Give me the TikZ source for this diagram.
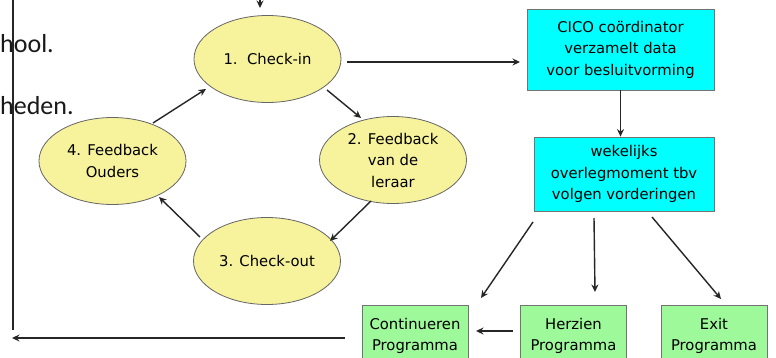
\documentclass[tikz,border=0pt]{standalone}
\usepackage{fontspec}
\setmainfont{DejaVu Sans}
\newfontfamily\bgfont{Carlito}
\usetikzlibrary{shapes.geometric,arrows.meta}
\definecolor{ellfill}{HTML}{F7F29C}
\definecolor{boxcyan}{HTML}{00FFFF}
\definecolor{boxgreen}{HTML}{9EF99A}
\begin{document}
\begin{tikzpicture}[x=1pt,y=-1pt,
  txt/.style={font=\fontsize{14.8}{21.5}\selectfont, align=center, text=black},
  ell/.style={txt, ellipse, draw=black!60, line width=0.8pt, fill=ellfill, minimum width=147pt, minimum height=87pt, inner sep=0pt},
  cbox/.style={txt, rectangle, draw=black!55, line width=0.8pt, fill=boxcyan, inner sep=0pt},
  gbox/.style={txt, rectangle, draw=black!55, line width=0.8pt, fill=boxgreen, inner sep=0pt, minimum width=106pt, minimum height=62pt},
  arr/.style={-{Stealth[length=7.5pt,width=7pt]}, line width=1.4pt, draw=black!85},
  bg/.style={font=\bgfont\fontsize{26}{30}\selectfont, anchor=base west, inner sep=0pt, text=black!90}]
\useasboundingbox (0,0) rectangle (776,358);
\clip (0,0) rectangle (776,358);
\fill[white] (0,0) rectangle (776,358);

% background text
\node[bg] (t1) at (0,53) {hool.};
\node[bg] (t2) at (0,115) {heden.};

% cycle ellipses
\node[ell] (e1) at (267.5,59) {1.\ \ Check-in};
\node[ell] (e2) at (393,160) {2. Feedback\\van de\\leraar};
\node[ell] (e3) at (267,261) {3. Check-out};
\node[ell] (e4) at (112.5,161) {4. Feedback\\Ouders};

% boxes
\node[cbox, minimum width=187pt, minimum height=81pt] (b1) at (620.5,49.5) {CICO coördinator\\verzamelt data\\voor besluitvorming};
\node[cbox, minimum width=180pt, minimum height=74pt] (b2) at (624,174) {wekelijks\\overlegmoment tbv\\volgen vorderingen};
\node[gbox] (g1) at (415,336) {Continueren\\Programma};
\node[gbox] (g2) at (573.5,336) {Herzien\\Programma};
\node[gbox] (g3) at (714,336) {Exit\\Programma};

% connector end points
\coordinate (top0) at (260,-2);
\coordinate (top1) at (260,8);
\coordinate (c12a) at (327,90);   \coordinate (c12b) at (361,118);
\coordinate (c23a) at (371,201);  \coordinate (c23b) at (330,241);
\coordinate (c34a) at (200,237);  \coordinate (c34b) at (159,197);
\coordinate (c41a) at (153,123);  \coordinate (c41b) at (206,89);
\coordinate (c1ba) at (347,62);   \coordinate (c1bb) at (520,62);
\coordinate (w1a) at (533,222);   \coordinate (w1b) at (481,298);
\coordinate (w2a) at (594,218);   \coordinate (w2b) at (595,292);
\coordinate (w3a) at (652,217);   \coordinate (w3b) at (721,299);
\coordinate (hc1) at (513,331);   \coordinate (hc2) at (476,331);
\coordinate (ra) at (345,338);    \coordinate (rb) at (12,338);
\coordinate (va) at (13,-2);      \coordinate (vb) at (13,330);

% connectors
\draw[arr] (top0) -- (top1);
\draw[arr] (c12a) -- (c12b);
\draw[arr] (c23a) -- (c23b);
\draw[arr] (c34a) -- (c34b);
\draw[arr] (c41a) -- (c41b);
\draw[arr] (c1ba) -- (c1bb);
\draw[arr] (b1.south) -- (b1.south |- b2.north);
\draw[arr] (w1a) -- (w1b);
\draw[arr] (w2a) -- (w2b);
\draw[arr] (w3a) -- (w3b);
\draw[arr] (hc1) -- (hc2);
\draw[arr] (ra) -- (rb);
\draw[line width=1.4pt, draw=black!85] (va) -- (vb);
\end{tikzpicture}
\end{document}
